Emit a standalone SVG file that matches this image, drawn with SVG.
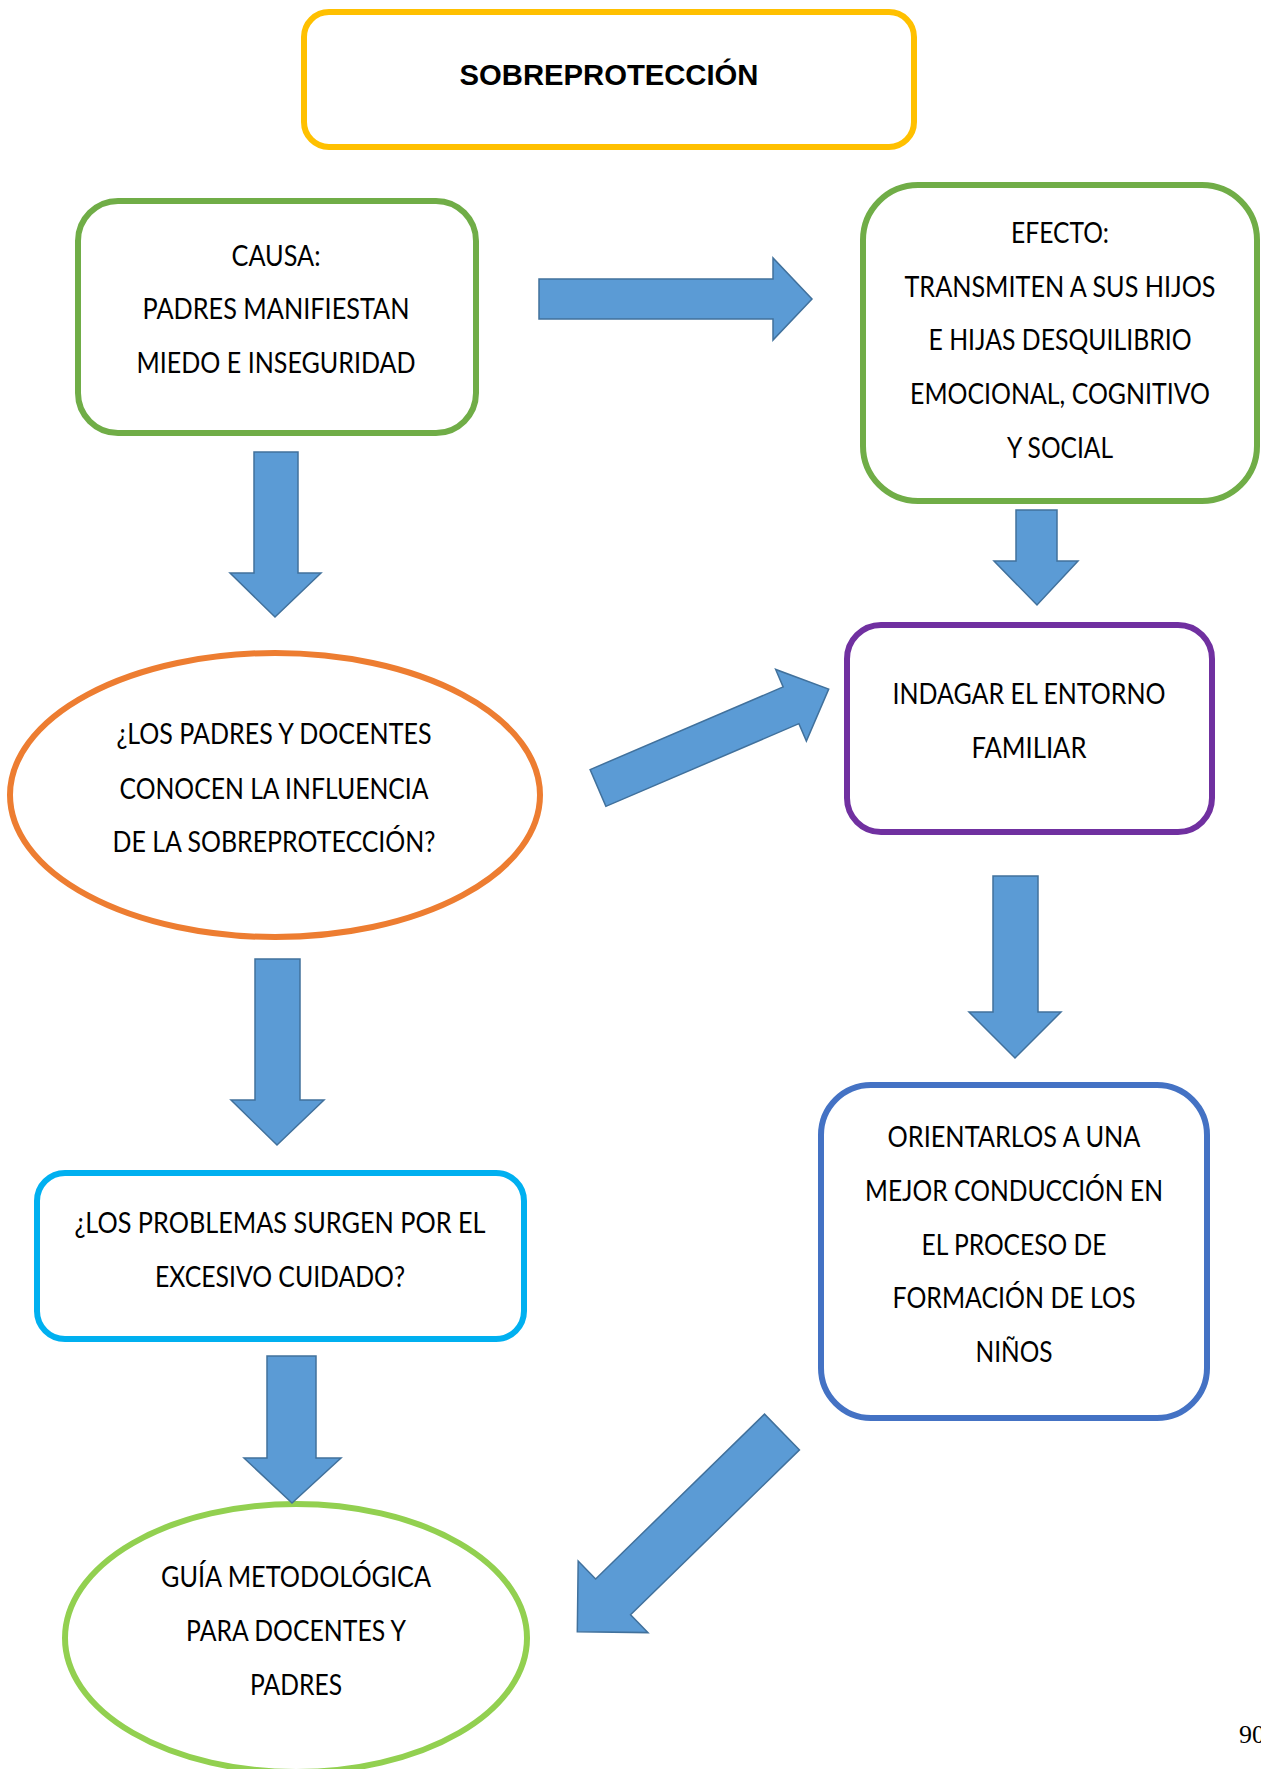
<svg xmlns="http://www.w3.org/2000/svg" width="1261" height="1769" viewBox="0 0 1261 1769">
<style>
.t{font-family:Lato,"Open Sans","Liberation Sans",sans-serif;font-size:29px;fill:#000;text-anchor:middle}
.title{font-family:"Liberation Sans",Arial,sans-serif;font-size:29px;font-weight:bold;fill:#000;text-anchor:middle}
.box{fill:#fff;stroke-width:6}
.arr{fill:#5B9BD5;stroke:#41719C;stroke-width:1.5;stroke-linejoin:miter}
.pg{font-family:"Liberation Serif","Times New Roman",serif;font-size:26px;fill:#000}
</style>
<rect width="1261" height="1769" fill="#fff"/>
<g id="title">
<rect class="box" x="304" y="12" width="610" height="135" rx="25" stroke="#FFC000" stroke-width="5"/>
<text class="title" x="609" y="85" textLength="299" lengthAdjust="spacingAndGlyphs">SOBREPROTECCIÓN</text>
</g>
<g id="causa">
<rect class="box" x="78" y="201" width="398" height="232" rx="40" stroke="#70AD47"/>
<text class="t" x="276" y="266" textLength="89" lengthAdjust="spacingAndGlyphs">CAUSA:</text>
<text class="t" x="276" y="319" textLength="267" lengthAdjust="spacingAndGlyphs">PADRES MANIFIESTAN</text>
<text class="t" x="276" y="373" textLength="279" lengthAdjust="spacingAndGlyphs">MIEDO E INSEGURIDAD</text>
</g>
<g id="efecto">
<rect class="box" x="863" y="185" width="394" height="316" rx="55" stroke="#70AD47"/>
<text class="t" x="1060" y="243" textLength="98" lengthAdjust="spacingAndGlyphs">EFECTO:</text>
<text class="t" x="1060" y="297" textLength="311" lengthAdjust="spacingAndGlyphs">TRANSMITEN A SUS HIJOS</text>
<text class="t" x="1060" y="350" textLength="263" lengthAdjust="spacingAndGlyphs">E HIJAS DESQUILIBRIO</text>
<text class="t" x="1060" y="404" textLength="300" lengthAdjust="spacingAndGlyphs">EMOCIONAL, COGNITIVO</text>
<text class="t" x="1060" y="458" textLength="106" lengthAdjust="spacingAndGlyphs">Y SOCIAL</text>
</g>
<g id="pregunta1">
<ellipse class="box" cx="275" cy="795" rx="265" ry="142" stroke="#ED7D31"/>
<text class="t" x="274" y="744" textLength="315" lengthAdjust="spacingAndGlyphs">¿LOS PADRES Y DOCENTES</text>
<text class="t" x="274" y="799" textLength="309" lengthAdjust="spacingAndGlyphs">CONOCEN LA INFLUENCIA</text>
<text class="t" x="274" y="852" textLength="323" lengthAdjust="spacingAndGlyphs">DE LA SOBREPROTECCIÓN?</text>
</g>
<g id="indagar">
<rect class="box" x="847" y="625" width="365" height="207" rx="34" stroke="#7030A0"/>
<text class="t" x="1029" y="704" textLength="273" lengthAdjust="spacingAndGlyphs">INDAGAR EL ENTORNO</text>
<text class="t" x="1029" y="758" textLength="115" lengthAdjust="spacingAndGlyphs">FAMILIAR</text>
</g>
<g id="problemas">
<rect class="box" x="37" y="1173" width="487" height="166" rx="28" stroke="#00B0F0"/>
<text class="t" x="280" y="1233" textLength="411" lengthAdjust="spacingAndGlyphs">¿LOS PROBLEMAS SURGEN POR EL</text>
<text class="t" x="280" y="1287" textLength="250" lengthAdjust="spacingAndGlyphs">EXCESIVO CUIDADO?</text>
</g>
<g id="orientarlos">
<rect class="box" x="821" y="1085" width="386" height="333" rx="50" stroke="#4472C4"/>
<text class="t" x="1014" y="1147" textLength="253" lengthAdjust="spacingAndGlyphs">ORIENTARLOS A UNA</text>
<text class="t" x="1014" y="1201" textLength="298" lengthAdjust="spacingAndGlyphs">MEJOR CONDUCCIÓN EN</text>
<text class="t" x="1014" y="1255" textLength="185" lengthAdjust="spacingAndGlyphs">EL PROCESO DE</text>
<text class="t" x="1014" y="1308" textLength="243" lengthAdjust="spacingAndGlyphs">FORMACIÓN DE LOS</text>
<text class="t" x="1014" y="1362" textLength="77" lengthAdjust="spacingAndGlyphs">NIÑOS</text>
</g>
<g id="guia">
<ellipse class="box" cx="296" cy="1638" rx="231" ry="134" stroke="#92D050"/>
<text class="t" x="296" y="1587" textLength="270" lengthAdjust="spacingAndGlyphs">GUÍA METODOLÓGICA</text>
<text class="t" x="296" y="1641" textLength="220" lengthAdjust="spacingAndGlyphs">PARA DOCENTES Y</text>
<text class="t" x="296" y="1695" textLength="92" lengthAdjust="spacingAndGlyphs">PADRES</text>
</g>
<g id="connectors">
<polygon class="arr" points="539,279 773,279 773,258 812,299 773,340 773,319 539,319"/>
<polygon class="arr" points="254,452 298,452 298,573 321,573 275,617 230,573 254,573"/>
<polygon class="arr" points="1016,510 1057,510 1057,561 1078,561 1037,605 994,561 1016,561"/>
<polygon class="arr" points="255,959 300,959 300,1100 324,1100 277,1145 231,1100 255,1100"/>
<polygon class="arr" points="993,876 1038,876 1038,1012 1061,1012 1015,1058 969,1012 993,1012"/>
<polygon class="arr" points="267,1356 316,1356 316,1458 341,1458 292,1503 244,1458 267,1458"/>
<polygon class="arr" transform="translate(598,788) rotate(-23.2)" points="0,-20 210,-20 210,-39 251,0 210,39 210,20 0,20"/>
<polygon class="arr" transform="translate(782,1432) rotate(135.7)" points="0,-25 236,-25 236,-50 286,0 236,50 236,25 0,25"/>
</g>
<text class="pg" x="1239" y="1743">90</text>
</svg>
